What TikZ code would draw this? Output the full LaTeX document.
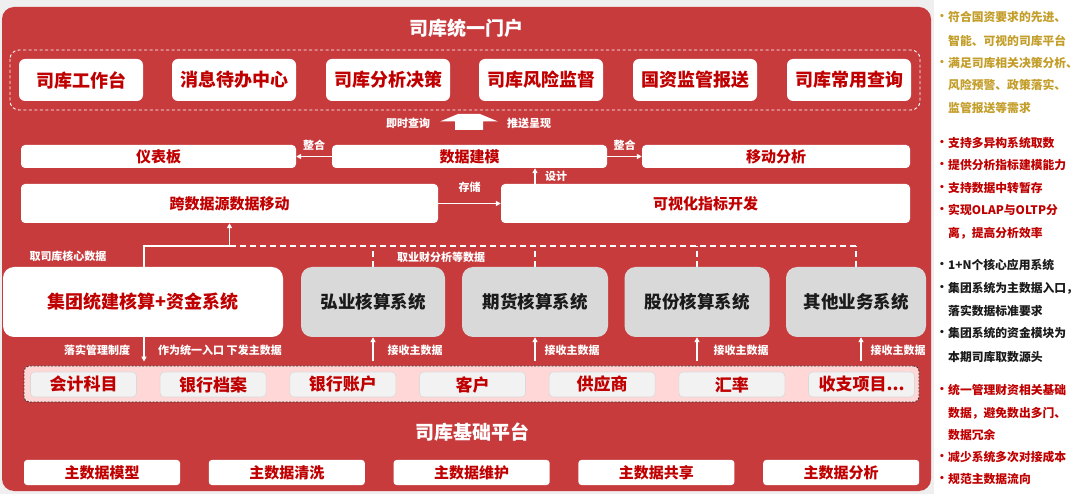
\documentclass[tikz,border=0pt]{standalone}
\usepackage{fontspec}
\setmainfont{Noto Sans CJK SC}
\usetikzlibrary{arrows.meta}
\definecolor{panelred}{HTML}{C83B3D}
\definecolor{dred}{HTML}{C00000}
\definecolor{txtblack}{HTML}{1A1A1A}
\definecolor{sysgray}{HTML}{D9D9D9}
\definecolor{bandpink}{HTML}{FFD7D7}
\definecolor{itemgray}{HTML}{F2F2F2}
\definecolor{gold}{RGB}{196,158,42}
\definecolor{bggray}{HTML}{EFEFEF}
\newcommand{\fsz}[1]{\fontsize{#1}{#1}\selectfont\bfseries}
\newcommand{\tdots}{...}
\tikzset{
  topbox/.style={draw=none, fill=white, rounded corners=6pt, minimum width=124pt, minimum height=42pt, inner sep=0pt, text=dred, font=\fsz{18}},
  barbox/.style={fill=white, rounded corners=4pt, inner sep=0pt, text=dred, font=\fsz{15}},
  sysbox/.style={fill=sysgray, rounded corners=11pt, inner sep=0pt, minimum height=70pt, text=txtblack, font=\fsz{17.5}},
  itembox/.style={fill=itemgray, draw=black!15, line width=0.6pt, rounded corners=4pt, minimum width=106pt, minimum height=25pt, inner sep=0pt, text=dred, font=\fsz{17}},
  basebox/.style={fill=white, rounded corners=3pt, minimum width=156pt, minimum height=25pt, inner sep=0pt, text=dred, font=\fsz{15}},
  wlabel/.style={text=white, font=\fsz{11}, inner sep=0pt},
  ttl/.style={text=white, font=\fsz{19}, inner sep=0pt},
  arr/.style={draw=white, line width=1.4pt, -{Triangle[length=5pt,width=5pt]}},
  busdash/.style={draw=white, line width=1.6pt, dash pattern=on 6pt off 4pt},
  rtext/.style={anchor=west, inner sep=0pt, font=\fsz{11.8}},
}
\begin{document}
\begin{tikzpicture}[x=1pt,y=-1pt]
\useasboundingbox (0,0) rectangle (1080,494);
\fill[white] (0,0) rectangle (1080,494);
\fill[bggray] (0,0) rectangle (934,494);
\fill[panelred, rounded corners=12pt] (2,7) rectangle (931,491);

% title
\node[ttl] (title) at (466,28) {司库统一门户};
\draw[white, line width=0.9pt, dash pattern=on 3pt off 2.5pt, rounded corners=9pt] (10,50) rectangle (920,110);
\node[topbox] (t1) at (81,80) {司库工作台};
\node[topbox] (t2) at (234,80) {消息待办中心};
\node[topbox] (t3) at (388,80) {司库分析决策};
\node[topbox] (t4) at (541,80) {司库风险监督};
\node[topbox] (t5) at (695,80) {国资监管报送};
\node[topbox] (t6) at (849,80) {司库常用查询};

% block arrow
\node[wlabel] (jscx) at (408,123) {即时查询};
\node[wlabel] (tscx) at (529,123) {推送呈现};
\fill[white] (440,121.5) -- (458,114) -- (480,114) -- (498,121.5) -- (483,121.5) -- (483,130) -- (455,130) -- (455,121.5) -- cycle;

% row 2
\node[barbox, minimum width=275pt, minimum height=23pt] (yb) at (158.5,156.5) {仪表板};
\node[barbox, minimum width=275pt, minimum height=23pt] (dm) at (469.5,156.5) {数据建模};
\node[barbox, minimum width=268pt, minimum height=23pt] (yd) at (776,156.5) {移动分析};
\draw[arr] (dm.west) -- (yb.east) node[midway, above=5pt, wlabel] (zh1) {整合};
\draw[arr] (dm.east) -- (yd.west) node[midway, above=5pt, wlabel] (zh2) {整合};

% row 3
\node[barbox, minimum width=417pt, minimum height=39pt] (kd) at (229.5,203.5) {跨数据源数据移动};
\node[barbox, minimum width=409pt, minimum height=39pt] (kv) at (705.5,203.5) {可视化指标开发};
\draw[arr] (kd.east) -- (kv.west) node[midway, above=10pt, wlabel] (cc) {存储};
\coordinate (sjx) at (535,0);
\draw[arr] (kv.north -| sjx) -- (dm.south -| sjx);
\node[wlabel] (sj) at (556,176.5) {设计};

% systems
\node[fill=white, rounded corners=11pt, minimum width=280pt, minimum height=70pt, inner sep=0pt, text=dred, font=\fsz{18}] (jt) at (143,302) {集团统建核算+资金系统};
\node[sysbox, minimum width=144pt] (hy) at (373,302) {弘业核算系统};
\node[sysbox, minimum width=146pt] (qh) at (535,302) {期货核算系统};
\node[sysbox, minimum width=145pt] (gf) at (697,302) {股份核算系统};
\node[sysbox, minimum width=140pt] (qt) at (856,302) {其他业务系统};

% bus
\coordinate (bus1) at (144,246);
\coordinate (bus2) at (229.5,246);
\coordinate (bus3) at (856,246);
\draw[arr] (jt.north -| bus1) -- (bus1) -- (bus2) -- (kd.south);
\draw[busdash] (bus2) -- (bus3);
\draw[busdash, line width=1.4pt] (hy.north) -- (hy.north |- bus2);
\draw[busdash, line width=1.4pt] (qh.north) -- (qh.north |- bus2);
\draw[busdash, line width=1.4pt] (gf.north) -- (gf.north |- bus2);
\draw[busdash, line width=1.4pt] (qt.north) -- (qt.north |- bus2);
\node[wlabel] (qsk) at (68,256) {取司库核心数据};
\node[wlabel] (qyc) at (441,257) {取业财分析等数据};

% band
\node[fill=bandpink, draw=black!80, line width=0.8pt, dash pattern=on 2pt off 1.5pt, rounded corners=5pt, minimum width=895pt, minimum height=36pt, inner sep=0pt] (band) at (471.5,384) {};
\foreach \t [count=\i from 0] in {会计科目,银行档案,银行账户,客户,供应商,汇率,收支项目\tdots}
  \node[itembox] (it\i) at ({83.5+\i*129.67},384.5) {\t};

\draw[arr, shorten >=4pt] (jt.south -| bus1) -- (band.north -| bus1);
\node[wlabel] (lsgl) at (97,350) {落实管理制度};
\node[wlabel] (twrk) at (220,350) {作为统一入口 下发主数据};
\coordinate (rx4) at (861,0);
\draw[arr, shorten <=5pt] (band.north -| hy.south) -- (hy.south);
\draw[arr, shorten <=5pt] (band.north -| qh.south) -- (qh.south);
\draw[arr, shorten <=5pt] (band.north -| gf.south) -- (gf.south);
\draw[arr, shorten <=5pt] (band.north -| rx4) -- (qt.south -| rx4);
\node[wlabel] (js1) at (415,350) {接收主数据};
\node[wlabel] (js2) at (572,350) {接收主数据};
\node[wlabel] (js3) at (741,350) {接收主数据};
\node[wlabel] (js4) at (898,350) {接收主数据};

% base platform
\node[ttl] (jc) at (472,432) {司库基础平台};
\foreach \t [count=\i from 0] in {主数据模型,主数据清洗,主数据维护,主数据共享,主数据分析}
  \node[basebox] (bb\i) at ({102+\i*184.8},472.5) {\t};

% right column
\foreach \y/\b/\t [count=\i] in {17/1/符合国资要求的先进、, 41/0/智能、可视的司库平台, 63/1/满足司库相关决策分析、, 85/0/风险预警、政策落实、, 108/0/监管报送等需求}{
  \node[rtext, text=gold] (ga\i) at (948,\y) {\t};
  \ifnum\b=1 \node[rtext, text=gold, anchor=center] (gab\i) at (942,\y) {·};\fi
}
\foreach \y/\b/\t [count=\i] in {143/1/支持多异构系统取数, 165/1/提供分析指标建模能力, 188/1/支持数据中转暂存, 210/1/实现OLAP与OLTP分, 233/0/离，提高分析效率}{
  \node[rtext, text=dred] (gb\i) at (948,\y) {\t};
  \ifnum\b=1 \node[rtext, text=dred, anchor=center] (gbb\i) at (942,\y) {·};\fi
}
\foreach \y/\b/\t [count=\i] in {265/1/1+N个核心应用系统, 288/1/集团系统为主数据入口，, 311/0/落实数据标准要求, 333/1/集团系统的资金模块为, 357/0/本期司库取数源头}{
  \node[rtext, text=txtblack] (gc\i) at (948,\y) {\t};
  \ifnum\b=1 \node[rtext, text=txtblack, anchor=center] (gcb\i) at (942,\y) {·};\fi
}
\foreach \y/\b/\t [count=\i] in {390/1/统一管理财资相关基础, 413/0/数据，避免数出多门、, 435/0/数据冗余, 457/1/减少系统多次对接成本, 479/1/规范主数据流向}{
  \node[rtext, text=dred] (gd\i) at (948,\y) {\t};
  \ifnum\b=1 \node[rtext, text=dred, anchor=center] (gdb\i) at (942,\y) {·};\fi
}
\end{tikzpicture}
\end{document}
